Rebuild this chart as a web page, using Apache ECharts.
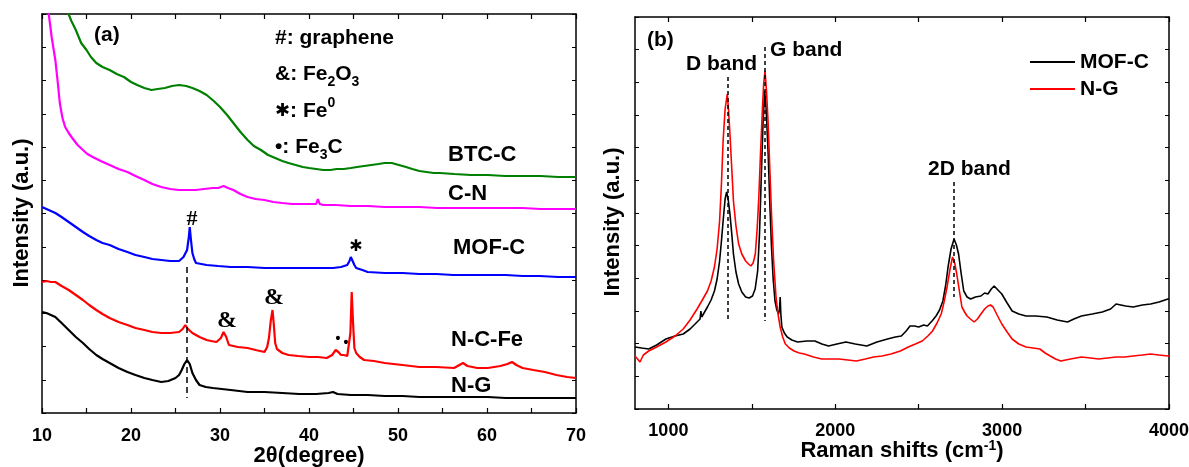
<!DOCTYPE html>
<html>
<head>
<meta charset="utf-8">
<script src="https://cdn.jsdelivr.net/npm/echarts@6/dist/echarts.min.js"></script>
<style>
html, body { margin: 0; padding: 0; background: #fff; }
#chart { width: 1189px; height: 467px; }
</style>
</head>
<body>
<div id="chart"></div>
<script>
// (a) XRD patterns, [2theta, intensity (offset, a.u.)]
const xrdBTCC = [[12.6,412],[12.8,403],[13.3,392],[13.8,383],[14.4,370],[15.0,363],[15.5,356],[16.1,350],[16.8,346],[17.6,343],[18.4,339],[19.2,336],[20.0,331],[20.7,328],[21.5,325],[22.3,323],[23.0,324],[23.8,325],[24.6,327],[25.4,328],[26.2,327],[26.9,325],[27.7,322],[28.5,318],[29.3,312],[30.0,306],[30.8,298],[31.5,290],[32.3,281],[33.1,273],[33.8,267],[34.6,263],[35.4,258],[36.2,255],[37.0,252],[37.7,250],[38.5,248],[39.3,246],[40.0,245],[40.8,244],[41.6,243],[42.4,243],[43.1,244],[43.9,244],[44.7,245],[45.4,246],[46.2,247],[47.0,248],[47.8,249],[48.5,250],[49.3,250],[50.1,248],[50.9,246],[51.6,244],[52.4,242],[53.2,241],[54.0,240],[54.7,240],[56.3,239],[58.2,238],[60.1,238],[62.0,237],[64.0,237],[66.0,237],[68.0,236],[70,236]];
const xrdCN = [[10.6,420],[10.7,403],[11.1,375],[11.5,353],[11.8,328],[12.0,310],[12.3,295],[12.6,286],[13.0,280],[13.4,275],[14.0,268],[14.6,263],[15.1,259],[15.7,256],[16.6,252],[17.6,248],[18.6,244],[19.6,241],[20.5,237],[21.5,233],[22.4,229],[23.4,226],[24.4,224],[25.4,223],[26.3,223],[27.3,223],[28.2,224],[29.2,225],[29.8,225],[30.4,227],[30.9,225],[31.5,223],[32.3,219],[33.1,216],[34.0,214],[35.0,213],[36.0,211],[37.0,210],[38.1,209],[39.3,209],[40.2,209],[40.8,209],[41.0,214],[41.2,209],[41.6,208],[43.0,208],[44.7,207],[46.6,207],[48.5,206],[50.5,206],[52.4,206],[54.4,205],[56.3,205],[58.2,205],[60.1,205],[62.0,205],[64.0,205],[66.0,204],[68.0,204],[70,204]];
const xrdMOFC = [[10.0,206],[10.5,204],[11.0,202],[11.5,200],[12.2,196],[13.0,191],[13.8,186],[14.6,181],[15.3,177],[16.1,173],[16.8,170],[17.6,168],[18.6,164],[19.6,161],[20.5,158],[21.5,156],[22.4,154],[23.4,153],[24.4,152],[25.4,152],[25.9,156],[26.3,163],[26.5,176],[26.6,186],[26.75,172],[26.9,160],[27.1,154],[27.3,150],[27.9,149],[28.5,148],[29.8,147],[31.2,146],[33.1,146],[35.0,145],[37.0,145],[38.9,145],[40.8,145],[42.7,145],[43.6,146],[44.3,148],[44.55,152],[44.7,156],[44.9,152],[45.1,148],[45.3,145],[46.0,143],[46.6,141],[48.5,140],[50.5,140],[52.4,139],[54.3,139],[56.2,138],[58.2,138],[60.1,138],[62.1,138],[64.0,137],[65.9,137],[68.0,136],[70,136]];
const xrdNCFe = [[10.0,131],[10.5,132],[11.0,131],[11.5,131],[12.2,127],[13.0,123],[13.8,118],[14.6,113],[15.3,108],[16.1,103],[16.8,99],[17.6,95],[18.6,91],[19.6,88],[20.5,85],[21.5,83],[22.4,81],[23.4,80],[24.4,80],[25.4,81],[25.8,84],[26.1,88],[26.4,84],[26.9,80],[27.7,76],[28.5,73],[29.0,72],[29.6,71],[30.1,75],[30.4,81],[30.7,76],[31.0,68],[32.0,66],[33.1,65],[34.0,63],[35.0,61],[35.3,66],[35.5,75],[35.7,92],[35.9,103],[36.05,88],[36.2,70],[36.4,64],[37.0,60],[37.7,58],[38.8,57],[40.0,56],[41.0,56],[42.0,55],[42.6,58],[43.0,63],[43.3,61],[43.6,58],[43.9,58],[44.3,57],[44.5,58],[44.65,80],[44.8,121],[44.95,90],[45.1,65],[45.3,60],[45.7,56],[46.2,53],[47.3,52],[48.5,50],[50.5,48],[52.4,46],[54.3,46],[56.3,45],[56.9,48],[57.3,50],[57.8,47],[58.9,45],[60.1,45],[61.5,47],[62.3,49],[62.8,51],[63.3,48],[64.0,45],[65.2,43],[66.5,41],[67.8,38],[69.0,36],[70,35]];
const xrdNG = [[10.0,101],[10.5,100],[11.0,98],[11.5,96],[12.2,90],[13.0,83],[13.8,76],[14.6,70],[15.3,64],[16.1,58],[16.8,54],[17.6,50],[18.6,45],[19.6,41],[20.5,38],[21.5,35],[22.4,33],[23.4,31],[24.2,32],[25.0,35],[25.4,38],[25.7,43],[26.0,49],[26.3,53],[26.6,49],[26.9,40],[27.3,33],[27.7,28],[28.4,26],[29.2,25],[31.2,23],[33.1,21],[35.0,21],[37.0,20],[38.9,19],[40.8,19],[42.2,20],[42.7,21],[43.2,19],[44.7,18],[46.6,18],[48.5,17],[50.5,17],[52.4,16],[54.3,16],[56.3,16],[58.2,16],[60.1,16],[62.1,15],[64.0,15],[66.0,15],[68.0,15],[70,15]];
const xrdDash = [[26.3,146],[26.3,15]];

// (b) Raman spectra, [shift cm-1, intensity]
const ramanMOFC = [[800,62],[840,61],[882,60],[930,64],[985,70],[1040,73],[1089,75],[1130,80],[1172,87],[1190,90],[1195,98],[1200,92],[1234,102],[1256,109],[1276,118],[1292,130],[1307,148],[1318,168],[1328,188],[1340,210],[1349,217],[1358,210],[1369,195],[1380,175],[1390,155],[1405,137],[1421,125],[1440,117],[1463,112],[1484,111],[1504,113],[1520,120],[1535,138],[1546,175],[1556,228],[1567,285],[1577,318],[1586,300],[1598,255],[1608,205],[1618,162],[1628,130],[1639,108],[1650,99],[1660,95],[1666,100],[1670,112],[1674,95],[1680,82],[1695,76],[1712,72],[1740,69],[1774,67],[1830,68],[1878,68],[1920,65],[1960,63],[2010,65],[2064,67],[2120,65],[2189,63],[2250,67],[2313,70],[2360,72],[2396,73],[2425,78],[2448,83],[2475,83],[2500,82],[2530,84],[2552,83],[2580,88],[2604,93],[2625,99],[2645,108],[2662,124],[2676,142],[2694,160],[2712,170],[2726,164],[2739,155],[2755,135],[2770,118],[2790,112],[2811,110],[2840,112],[2873,113],[2895,116],[2915,115],[2935,120],[2952,123],[2975,119],[2998,115],[3030,106],[3060,98],[3100,95],[3143,93],[3200,93],[3268,92],[3330,89],[3392,87],[3430,90],[3475,93],[3540,95],[3600,97],[3650,100],[3683,105],[3740,103],[3786,102],[3840,104],[3890,105],[3940,107],[3994,110],[4000,110]];
const ramanNG = [[800,53],[815,50],[830,47],[850,54],[882,58],[930,62],[985,67],[1040,73],[1089,80],[1130,89],[1172,100],[1200,108],[1234,118],[1256,128],[1276,142],[1292,160],[1307,188],[1318,225],[1328,268],[1340,300],[1353,315],[1360,300],[1369,275],[1380,240],[1390,208],[1405,183],[1421,165],[1440,155],[1463,148],[1480,145],[1494,143],[1508,146],[1521,155],[1532,180],[1542,212],[1552,255],[1563,298],[1571,325],[1579,338],[1588,318],[1598,285],[1608,240],[1618,195],[1630,150],[1645,112],[1658,94],[1670,82],[1685,72],[1701,65],[1725,61],[1753,58],[1785,56],[1815,55],[1870,52],[1919,50],[1970,50],[2023,50],[2075,49],[2127,48],[2180,50],[2230,52],[2280,53],[2334,55],[2390,58],[2438,62],[2480,65],[2521,68],[2555,73],[2583,78],[2610,86],[2635,95],[2652,107],[2670,122],[2688,140],[2703,152],[2716,146],[2728,135],[2744,118],[2759,102],[2775,97],[2790,93],[2810,90],[2832,87],[2852,90],[2873,95],[2895,100],[2915,103],[2930,104],[2946,102],[2970,94],[2998,85],[3030,77],[3060,70],[3100,65],[3143,62],[3185,61],[3226,60],[3258,56],[3288,53],[3320,50],[3351,48],[3410,50],[3475,52],[3530,51],[3579,50],[3630,51],[3683,52],[3735,52],[3786,53],[3840,54],[3890,55],[3940,54],[3994,53],[4000,53]];
const ramanDashes = [[[1353,332],[1353,88]], [[1577,362],[1577,88]], [[2712,227],[2712,112]]];

const xrdTicks = [10, 70, 10];
const ramanTicks = [1000, 1500, 2000, 2500, 3000, 3500, 4000];
const ramanLabels = [1000, 2000, 3000, 4000];

const FONT = '"Liberation Sans", Arial, Helvetica, sans-serif';
const SERIF = '"Liberation Serif", "Times New Roman", serif';

const chart = echarts.init(document.getElementById('chart'), null, { renderer: 'canvas' });

const axisLine = { show: true, onZero: false, lineStyle: { color: '#000', width: 1.5 } };
const tickStyle = { color: '#000', width: 1.2 };
const tickLabel = (margin) => ({
  color: '#000', fontFamily: FONT, fontWeight: 'bold', fontSize: 18, margin,
  formatter: v => String(v)
});
const nameStyle = { color: '#000', fontFamily: FONT, fontWeight: 'bold', fontSize: 22 };

const yAx = (grid, pos, max) => ({
  gridIndex: grid, type: 'value', position: pos, min: 0, max, interval: max / 12,
  axisLine, axisLabel: { show: false }, splitLine: { show: false },
  axisTick: { show: true, inside: true, length: 4, lineStyle: { color: '#000', width: 1 } }
});

const txt = (x, y, text, extra) => ({
  type: 'text', x, y, silent: true,
  style: Object.assign({
    text, fill: '#000', font: 'bold 21px ' + FONT,
    textAlign: 'left', textVerticalAlign: 'middle', align: 'left', verticalAlign: 'middle'
  }, extra || {})
});
const rich = {
  m: { fontFamily: FONT, fontWeight: 'bold', fontSize: 21, lineHeight: 30, verticalAlign: 'middle' },
  sub: { fontFamily: FONT, fontWeight: 'bold', fontSize: 14, lineHeight: 30, verticalAlign: 'bottom' },
  sup: { fontFamily: FONT, fontWeight: 'bold', fontSize: 14, lineHeight: 28, verticalAlign: 'top' },
  star: { fontFamily: 'DejaVu Sans', fontWeight: 'bold', fontSize: 18, lineHeight: 28, verticalAlign: 'middle' }
};

const xrdLine = (name, data, color) => ({
  name, type: 'line', xAxisIndex: 0, yAxisIndex: 0, data,
  symbol: 'none', showSymbol: false, animation: false,
  lineStyle: { color, width: 2.2 }, itemStyle: { color }
});
const ramanLine = (name, data, color) => ({
  name, type: 'line', xAxisIndex: 2, yAxisIndex: 2, data,
  symbol: 'none', showSymbol: false, animation: false,
  lineStyle: { color, width: 1.6 }, itemStyle: { color }
});

const dashLine = (segments, dash) => ({
  silent: true, symbol: ['none', 'none'], label: { show: false },
  lineStyle: { type: dash, color: '#000', width: 1.5 },
  data: segments.map(s => [{ coord: s[0] }, { coord: s[1] }])
});

const option = {
  backgroundColor: '#fff',
  animation: false,
  grid: [
    { left: 42, top: 14, width: 534, height: 399, containLabel: false, outerBoundsMode: 'none' },
    { left: 635, top: 17, width: 534, height: 392, containLabel: false, outerBoundsMode: 'none' }
  ],
  xAxis: [
    {
      gridIndex: 0, type: 'value', position: 'bottom',
      min: xrdTicks[0], max: xrdTicks[1], interval: xrdTicks[2],
      axisLine, splitLine: { show: false },
      axisTick: { show: true, inside: true, length: 5, lineStyle: tickStyle },
      minorTick: { show: true, splitNumber: 2, length: 5, lineStyle: tickStyle },
      axisLabel: tickLabel(14),
      name: '2θ(degree)', nameLocation: 'middle', nameGap: 32, nameMoveOverlap: false,
      nameTextStyle: nameStyle
    },
    {
      gridIndex: 0, type: 'value', position: 'top',
      min: xrdTicks[0], max: xrdTicks[1], interval: xrdTicks[2],
      axisLine, splitLine: { show: false }, axisLabel: { show: false },
      axisTick: { show: true, inside: true, length: 5, lineStyle: tickStyle },
      minorTick: { show: true, splitNumber: 2, length: 5, lineStyle: tickStyle }
    },
    {
      gridIndex: 1, type: 'value', position: 'bottom', min: 800, max: 4000,
      axisLine, splitLine: { show: false },
      axisTick: { show: true, inside: true, length: 5, customValues: ramanTicks, lineStyle: tickStyle },
      axisLabel: Object.assign({ customValues: ramanLabels }, tickLabel(13)),
      name: 'Raman shifts (cm{sup|-1})', nameLocation: 'middle', nameGap: 30, nameMoveOverlap: false,
      nameTextStyle: Object.assign({}, nameStyle, {
        rich: { sup: { fontFamily: FONT, fontWeight: 'bold', fontSize: 14, lineHeight: 24, verticalAlign: 'top' } }
      })
    },
    {
      gridIndex: 1, type: 'value', position: 'top', min: 800, max: 4000,
      axisLine, splitLine: { show: false }, axisLabel: { show: false },
      axisTick: { show: true, inside: true, length: 5, customValues: ramanTicks, lineStyle: tickStyle }
    }
  ],
  yAxis: [
    yAx(0, 'left', 399), yAx(0, 'right', 399),
    yAx(1, 'left', 392), yAx(1, 'right', 392)
  ],
  legend: {
    data: ['MOF-C', 'N-G'],
    orient: 'vertical', left: 1025, top: 46,
    icon: 'rect', itemWidth: 45, itemHeight: 2, itemGap: 5,
    textStyle: { color: '#000', fontFamily: FONT, fontWeight: 'bold', fontSize: 21, lineHeight: 22 },
    selectedMode: false
  },
  series: [
    xrdLine('XRD BTC-C', xrdBTCC, '#008000'),
    xrdLine('XRD C-N', xrdCN, '#ff00ff'),
    xrdLine('XRD MOF-C', xrdMOFC, '#0000ff'),
    xrdLine('XRD N-C-Fe', xrdNCFe, '#ff0000'),
    Object.assign(xrdLine('XRD N-G', xrdNG, '#000000'), { markLine: dashLine([xrdDash], [6, 4]) }),
    Object.assign(ramanLine('MOF-C', ramanMOFC, '#000000'), { markLine: dashLine(ramanDashes, [4, 3]) }),
    ramanLine('N-G', ramanNG, '#ff0000')
  ],
  graphic: [
    // panel (a)
    txt(94, 35, '(a)'),
    txt(275, 38, '#: graphene'),
    txt(275, 74, '{m|&: Fe}{sub|2}{m|O}{sub|3}', { rich }),
    txt(275, 111, '{star|✱}{m|: Fe}{sup|0}', { rich }),
    txt(275, 147, '{m|•: Fe}{sub|3}{m|C}', { rich }),
    txt(448, 155, 'BTC-C', { font: 'bold 22px ' + FONT }),
    txt(448, 194, 'C-N', { font: 'bold 22px ' + FONT }),
    txt(453, 248, 'MOF-C', { font: 'bold 22px ' + FONT }),
    txt(451, 340, 'N-C-Fe', { font: 'bold 22px ' + FONT }),
    txt(451, 386, 'N-G', { font: 'bold 22px ' + FONT }),
    txt(192, 219, '#', { font: 'bold 22px ' + SERIF, textAlign: 'center', align: 'center' }),
    txt(356, 247, '✱', { font: 'bold 16px "DejaVu Sans"', textAlign: 'center', align: 'center' }),
    txt(274, 298, '&', { font: 'bold 24px ' + SERIF, textAlign: 'center', align: 'center' }),
    txt(227, 321, '&', { font: 'bold 24px ' + SERIF, textAlign: 'center', align: 'center' }),
    txt(338, 339, '•', { font: 'bold 14px ' + FONT, textAlign: 'center', align: 'center' }),
    txt(346, 343, '•', { font: 'bold 14px ' + FONT, textAlign: 'center', align: 'center' }),
    Object.assign(txt(22, 213, 'Intensity (a.u.)', { font: 'bold 22px ' + FONT, textAlign: 'center', align: 'center' }), { rotation: Math.PI / 2 }),
    // panel (b)
    txt(647, 40, '(b)'),
    txt(686, 64, 'D band'),
    txt(770, 50, 'G band'),
    txt(928, 169, '2D band'),
    Object.assign(txt(613, 222, 'Intensity (a.u.)', { font: 'bold 22px ' + FONT, textAlign: 'center', align: 'center' }), { rotation: Math.PI / 2 })
  ]
};

chart.setOption(option);
window.addEventListener('resize', () => chart.resize());
</script>
</body>
</html>
